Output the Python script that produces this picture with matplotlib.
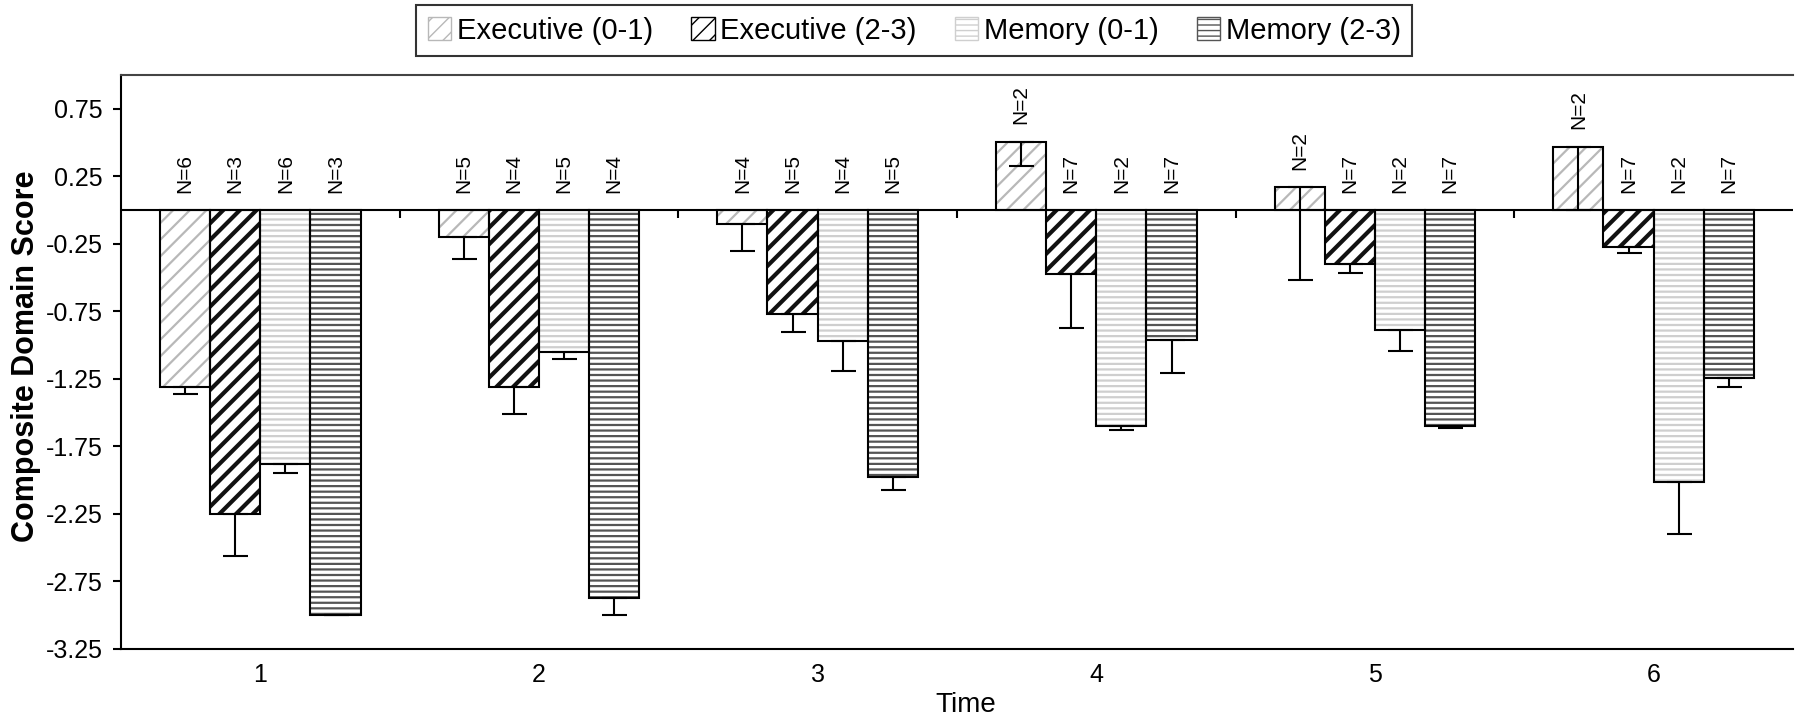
import matplotlib
matplotlib.use("Agg")
import matplotlib.pyplot as plt
import numpy as np
from matplotlib.patches import Patch

plt.rcParams['font.family'] = ['Liberation Sans', 'DejaVu Sans']

# Data
times = [1, 2, 3, 4, 5, 6]
series_names = ['Executive (0-1)', 'Executive (2-3)', 'Memory (0-1)', 'Memory (2-3)']

exec01 = [-1.31, -0.20, -0.10, 0.505, 0.17, 0.47]
exec23 = [-2.25, -1.31, -0.77, -0.47, -0.40, -0.27]
mem01 = [-1.88, -1.05, -0.97, -1.60, -0.89, -2.015]
mem23 = [-3.00, -2.87, -1.98, -0.96, -1.60, -1.245]

exec01_err = [0.05, 0.165, 0.205, 0.18, 0.69, 0.47]
exec23_err = [0.31, 0.20, 0.135, 0.40, 0.067, 0.045]
mem01_err = [0.07, 0.055, 0.22, 0.03, 0.15, 0.38]
mem23_err = [0.0, 0.13, 0.09, 0.25, 0.015, 0.067]

n_exec01 = [6, 5, 4, 2, 2, 2]
n_exec23 = [3, 4, 5, 7, 7, 7]
n_mem01 = [6, 5, 4, 2, 2, 2]
n_mem23 = [3, 4, 5, 7, 7, 7]

yticks = [-3.25, -2.75, -2.25, -1.75, -1.25, -0.75, -0.25, 0.25, 0.75]

values = [exec01, exec23, mem01, mem23]
errors = [exec01_err, exec23_err, mem01_err, mem23_err]
counts = [n_exec01, n_exec23, n_mem01, n_mem23]

# hatch styles: (hatch, hatch colour, hatch line width)
styles = [
    ('//', '#b8b8b8', 1.6),
    ('//', '#111111', 3.0),
    ('---', '#cfcfcf', 1.6),
    ('---', '#555555', 1.6),
]

fig = plt.figure(figsize=(18, 7.27), dpi=100)
ax = fig.add_axes([0.0672, 0.1073, 0.9289, 0.7895])

x = np.array(times, dtype=float)
width = 0.18
offsets = [-1.5, -0.5, 0.5, 1.5]

for k in range(4):
    xs = x + offsets[k] * width
    hatch, hcol, hlw = styles[k]
    # hatch layer
    bars = ax.bar(xs, values[k], width, color='white', edgecolor=hcol,
                  hatch=hatch, linewidth=0, zorder=2)
    for p in bars:
        if hasattr(p, 'set_hatch_linewidth'):
            p.set_hatch_linewidth(hlw)
    # outline
    ax.bar(xs, values[k], width, fill=False, edgecolor='black',
           linewidth=1.5, zorder=3)
    # minus-only error bars
    lower = np.array(errors[k])
    ax.errorbar(xs, values[k], yerr=[lower, np.zeros_like(lower)], fmt='none',
                ecolor='black', elinewidth=1.5, capsize=9, capthick=1.5, zorder=4)
    # N labels
    for xi, v, n in zip(xs, values[k], counts[k]):
        ax.text(xi, max(v, 0) + 0.13, f'N={n}', rotation=90, ha='center',
                va='bottom', fontsize=15, zorder=5)

# zero line and category separators
ax.axhline(0, color='black', linewidth=1.5, zorder=4)
ax.vlines(x[:-1] + 0.5, -0.06, 0, color='black', linewidth=1.5, zorder=4)

ax.set_xlim(0.5, 6.5)
ax.set_ylim(-3.25, 1.0)
ax.set_yticks(yticks)
ax.set_yticklabels([f'{t:.2f}' for t in yticks])
ax.set_xticks(times)
ax.set_xticklabels([str(t) for t in times])
ax.tick_params(axis='x', length=0, pad=10, labelsize=18)
ax.tick_params(axis='y', length=6, width=1.5, pad=7, labelsize=18, direction='out')

ax.spines['right'].set_visible(False)
ax.spines['top'].set_color('#444444')
for s in ['top', 'left', 'bottom']:
    ax.spines[s].set_linewidth(1.5)

ax.set_ylabel('Composite Domain Score', fontsize=22, fontweight='bold')
ax.yaxis.set_label_coords(-0.048, 0.51)
ax.set_xlabel('Time', fontsize=20)
ax.xaxis.set_label_coords(0.505, -0.075)

handles = []
for k in range(4):
    hatch, hcol, hlw = styles[k]
    handles.append(Patch(facecolor='white', edgecolor=hcol if k != 1 else 'black',
                         hatch=hatch, label=series_names[k]))
leg = fig.legend(handles=handles, loc='upper center', bbox_to_anchor=(0.508, 0.993),
                 ncol=4, fontsize=21, frameon=True, fancybox=False,
                 handlelength=0.8, handleheight=0.8, handletextpad=0.2,
                 columnspacing=1.3, borderpad=0.4, borderaxespad=0)
leg.get_frame().set_edgecolor('black')
leg.get_frame().set_linewidth(1.5)

fig.savefig('out.png', dpi=100)
